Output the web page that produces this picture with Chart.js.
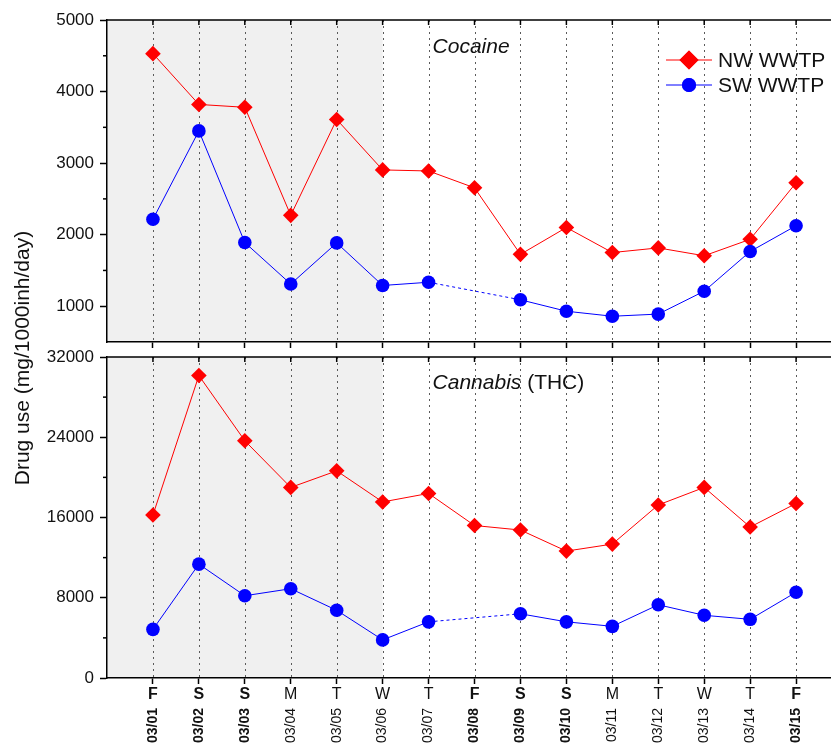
<!DOCTYPE html>
<html>
<head>
<meta charset="utf-8">
<script src="https://cdn.jsdelivr.net/npm/chart.js@4/dist/chart.umd.min.js"></script>
<style>
  html, body { margin: 0; padding: 0; background: #ffffff; }
  #wrap { position: relative; width: 831px; height: 744px; overflow: hidden; background: #fff; }
  #cTop { position: absolute; left: 0; top: 0; }
  #cBot { position: absolute; left: 0; top: 340px; }
  #ytitle {
    position: absolute; left: -178px; top: 346px; width: 400px; height: 24px;
    line-height: 24px; text-align: center; transform: rotate(-90deg); transform-origin: 50% 50%;
    font-family: 'Liberation Sans', Arial, sans-serif; font-size: 21px; color: #111; white-space: nowrap;
  }
</style>
</head>
<body>
<div id="wrap">
  <canvas id="cTop" width="831" height="360"></canvas>
  <canvas id="cBot" width="831" height="404"></canvas>
  <div id="ytitle">Drug use (mg/1000inh/day)</div>
</div>
<script>
// ---------- data ----------
const dates = ['03/01','03/02','03/03','03/04','03/05','03/06','03/07','03/08','03/09','03/10','03/11','03/12','03/13','03/14','03/15'];
const days  = ['F','S','S','M','T','W','T','F','S','S','M','T','W','T','F'];
const boldDay = [true,true,true,false,false,false,false,true,true,true,false,false,false,false,true];

const cocaineNW = [4530, 3820, 3780, 2270, 3610, 2905, 2890, 2655, 1725, 2100, 1750, 1815, 1705, 1935, 2725];
const cocaineSW = [2215, 3450, 1890, 1310, 1885, 1290, 1335, null, 1090, 930, 860, 890, 1210, 1765, 2125];

const cannabisNW = [16250, 30150, 23650, 19000, 20650, 17550, 18400, 15200, 14750, 12650, 13350, 17250, 19000, 15050, 17400];
const cannabisSW = [4850, 11350, 8200, 8900, 6750, 3800, 5600, null, 6400, 5600, 5150, 7300, 6250, 5850, 8550];

const cocaineYTicks  = [1000, 2000, 3000, 4000, 5000];
const cocaineYMinor  = [1500, 2500, 3500, 4500];
const cannabisYTicks = [0, 8000, 16000, 24000, 32000];
const cannabisYMinor = [4000, 12000, 20000, 28000];

const seriesNames = ['NW WWTP', 'SW WWTP'];
const shadeUntil = 5; // last shaded day index (03/06)

// ---------- styling ----------
const FAM = "'Liberation Sans', Arial, Helvetica, sans-serif";
const RED = '#ff0000';
const BLUE = '#0000ff';
const X_MIN = -1, X_MAX = 14.76;

const toXY = arr => arr.map((v, i) => ({ x: i, y: v }));
const gapDash = arr => (ctx => {
  const a = ctx.p0DataIndex, b = ctx.p1DataIndex;
  const gap = (b - a > 1) || arr[a] == null || arr[b] == null || (ctx.p0 && ctx.p0.skip) || (ctx.p1 && ctx.p1.skip);
  return gap ? [3, 3] : undefined;
});

function datasets(nw, sw) {
  return [
    { label: seriesNames[1], data: toXY(sw), borderColor: BLUE, backgroundColor: BLUE,
      borderWidth: 1, pointStyle: 'circle', pointRadius: 6.8, pointBorderWidth: 0,
      pointBackgroundColor: BLUE, spanGaps: true, segment: { borderDash: gapDash(sw) } },
    { label: seriesNames[0], data: toXY(nw), borderColor: RED, backgroundColor: RED,
      borderWidth: 1, pointStyle: 'rectRot', pointRadius: 7.8, pointBorderWidth: 0,
      pointBackgroundColor: RED, spanGaps: true, segment: { borderDash: gapDash(nw) } }
  ];
}

const decor = {
  id: 'decor',
  beforeDraw(chart, args, opts) {
    const { ctx, chartArea: a, scales: { x } } = chart;
    ctx.save();
    ctx.fillStyle = '#f0f0f0';
    const xe = x.getPixelForValue(shadeUntil);
    ctx.fillRect(a.left, a.top, xe - a.left, a.bottom - a.top);
    ctx.strokeStyle = '#5a5a5a';
    ctx.lineWidth = 1;
    ctx.setLineDash([2, 4]);
    dates.forEach((d, i) => {
      const px = Math.round(x.getPixelForValue(i)) + 0.5;
      ctx.beginPath();
      ctx.moveTo(px, a.top);
      ctx.lineTo(px, a.bottom);
      ctx.stroke();
    });
    ctx.restore();
  },
  afterDraw(chart, args, opts) {
    const { ctx, chartArea: a, scales: { x, y } } = chart;
    ctx.save();
    ctx.strokeStyle = '#000';
    ctx.lineWidth = 1.5;
    ctx.setLineDash([]);
    ctx.beginPath();
    ctx.moveTo(a.left - 0.75, a.top);
    ctx.lineTo(a.right, a.top);
    ctx.stroke();
    dates.forEach((d, i) => {
      const px = x.getPixelForValue(i);
      ctx.beginPath();
      ctx.moveTo(px, a.top);
      ctx.lineTo(px, a.top + 5);
      ctx.stroke();
    });
    (opts.minor || []).forEach(v => {
      const py = y.getPixelForValue(v);
      ctx.beginPath();
      ctx.moveTo(a.left, py);
      ctx.lineTo(a.left - 4, py);
      ctx.stroke();
    });
    const tx = x.getPixelForValue(6) + 4;
    const ty = a.top + opts.titleDy;
    ctx.fillStyle = '#111';
    ctx.textBaseline = 'middle';
    ctx.textAlign = 'left';
    ctx.font = 'italic 21px ' + FAM;
    ctx.fillText(opts.titleItalic, tx, ty);
    if (opts.titleRest) {
      const w = ctx.measureText(opts.titleItalic).width;
      ctx.font = '21px ' + FAM;
      ctx.fillText(opts.titleRest, tx + w, ty);
    }
    if (opts.legend) {
      const lx0 = a.right - 165, lx1 = a.right - 119, mx = (lx0 + lx1) / 2;
      const rows = [
        { name: seriesNames[0], color: RED, style: 'rectRot', r: 9.5, y: a.top + 40 },
        { name: seriesNames[1], color: BLUE, style: 'circle', r: 7, y: a.top + 65 }
      ];
      rows.forEach(r => {
        ctx.strokeStyle = r.color;
        ctx.lineWidth = 1;
        ctx.beginPath();
        ctx.moveTo(lx0, r.y);
        ctx.lineTo(lx1, r.y);
        ctx.stroke();
        ctx.fillStyle = r.color;
        Chart.helpers.drawPoint(ctx, { pointStyle: r.style, radius: r.r, borderWidth: 0, rotation: 0 }, mx, r.y);
        ctx.fill();
        ctx.fillStyle = '#111';
        ctx.font = '21px ' + FAM;
        ctx.textAlign = 'left';
        ctx.textBaseline = 'middle';
        ctx.fillText(r.name, lx1 + 6, r.y + 1);
      });
    }
    ctx.restore();
  }
};

function yAxis(min, max, ticks) {
  return {
    min, max,
    afterBuildTicks: s => { s.ticks = ticks.map(v => ({ value: v })); },
    ticks: { font: { family: FAM, size: 17 }, color: '#111', padding: 6, callback: v => String(v) },
    grid: { drawOnChartArea: false, tickLength: 7, tickColor: '#000', tickWidth: 1.5 },
    border: { color: '#000', width: 1.5 },
    afterFit: s => { s.width = 107; }
  };
}
const xTickBuild = s => { s.ticks = dates.map((d, i) => ({ value: i })); };
const tickFont = size => (c => ({ family: FAM, size, weight: (c.tick && boldDay[c.tick.value]) ? 'bold' : 'normal' }));

new Chart(document.getElementById('cTop'), {
  type: 'line',
  data: { datasets: datasets(cocaineNW, cocaineSW) },
  options: {
    responsive: false, animation: false, devicePixelRatio: 1,
    layout: { autoPadding: false, padding: { top: 20, right: 0, left: 0, bottom: 0 } },
    plugins: { legend: { display: false }, tooltip: { enabled: false },
      decor: { minor: cocaineYMinor, titleItalic: 'Cocaine', titleRest: '', titleDy: 27, legend: true } },
    scales: {
      x: { type: 'linear', min: X_MIN, max: X_MAX, afterBuildTicks: xTickBuild,
           ticks: { display: false },
           grid: { drawOnChartArea: false, tickLength: 6, tickColor: '#000', tickWidth: 1.5 },
           border: { color: '#000', width: 1.5 },
           afterFit: s => { s.height = 18; } },
      y: yAxis(500, 5000, cocaineYTicks)
    }
  },
  plugins: [decor]
});

new Chart(document.getElementById('cBot'), {
  type: 'line',
  data: { datasets: datasets(cannabisNW, cannabisSW) },
  options: {
    responsive: false, animation: false, devicePixelRatio: 1,
    layout: { autoPadding: false, padding: { top: 17, right: 0, left: 0, bottom: 0 } },
    plugins: { legend: { display: false }, tooltip: { enabled: false },
      decor: { minor: cannabisYMinor, titleItalic: 'Cannabis', titleRest: ' (THC)', titleDy: 26, legend: false } },
    scales: {
      x: { type: 'linear', position: 'bottom', weight: 0, min: X_MIN, max: X_MAX, afterBuildTicks: xTickBuild,
           ticks: { callback: v => days[v], font: tickFont(16), color: '#111', padding: 1,
                    autoSkip: false, minRotation: 0, maxRotation: 0 },
           grid: { drawOnChartArea: false, tickLength: 6, tickColor: '#000', tickWidth: 1.5 },
           border: { color: '#000', width: 1.5 },
           afterFit: s => { s.height = 28; } },
      x2: { type: 'linear', position: 'bottom', weight: 1, min: X_MIN, max: X_MAX, afterBuildTicks: xTickBuild,
           ticks: { callback: v => dates[v], font: tickFont(14), color: '#111', padding: 2,
                    autoSkip: false, minRotation: 90, maxRotation: 90 },
           grid: { display: false, drawTicks: false },
           border: { display: false },
           afterFit: s => { s.height = 38; } },
      y: yAxis(0, 32000, cannabisYTicks)
    }
  },
  plugins: [decor]
});
</script>
</body>
</html>
